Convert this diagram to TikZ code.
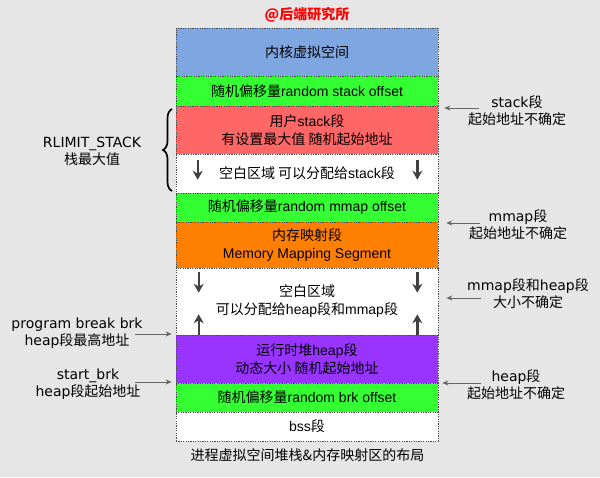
\documentclass[tikz,border=0pt]{standalone}
\usepackage{fontspec}
\setmainfont{Liberation Sans}
\newfontfamily\cjk{Noto Sans CJK SC}
\newfontfamily\sidefont{DejaVu Sans}
\usetikzlibrary{decorations.pathreplacing,arrows.meta,calc}
\definecolor{bgc}{HTML}{E6E6E6}
\definecolor{kblue}{HTML}{7EA6E0}
\definecolor{rgreen}{HTML}{33FF33}
\definecolor{sred}{HTML}{FF6666}
\definecolor{morange}{HTML}{FF8000}
\definecolor{hpurple}{HTML}{9933FF}
\newcommand\zh[1]{{\cjk #1}}
\begin{document}
\begin{tikzpicture}[x=1pt,y=-1pt,
  seg/.style={draw=black!70, line width=0.6pt, dash pattern=on 1.2pt off 1.2pt,
    minimum width=262pt, inner sep=0pt, align=center,
    font=\fontsize{14}{18}\selectfont},
  side/.style={align=center, font=\sidefont\fontsize{14}{17}\selectfont},
  flow/.style={draw=black!75, line width=2.4pt, -{Stealth[length=9pt,width=10pt]}},
  sidearr/.style={draw=black!60, line width=0.9pt, -{Stealth[length=6pt,width=5pt]}}
]
\fill[bgc] (0,0) rectangle (600,477);
\useasboundingbox (0,0) rectangle (600,477);

\node[font=\cjk\bfseries\fontsize{14}{16}\selectfont, text=red] (title) at (307,15) {@后端研究所};

\node[seg, fill=kblue, minimum height=48pt] (kernel) at (307,52) {\zh{内核虚拟空间}};
\node[seg, fill=rgreen, minimum height=30pt] (rso) at (307,91) {\zh{随机偏移量}random stack offset};
\node[seg, fill=sred, minimum height=48pt] (stack) at (307,130) {\zh{用户}stack\zh{段}\\\zh{有设置最大值 随机起始地址}};
\node[seg, fill=white, minimum height=39pt] (free1) at (307,173.5) {\zh{空白区域 可以分配给}stack\zh{段}};
\node[seg, fill=rgreen, minimum height=29pt] (rmo) at (307,207.5) {\zh{随机偏移量}random mmap offset};
\node[seg, fill=morange, minimum height=46pt] (mmap) at (307,245) {\zh{内存映射段}\\Memory Mapping Segment};
\node[seg, fill=white, minimum height=67pt] (free2) at (307,301.5) {\zh{空白区域}\\\zh{可以分配给}heap\zh{段和}mmap\zh{段}};
\node[seg, fill=hpurple, minimum height=48pt] (heap) at (307,359) {\zh{运行时堆}heap\zh{段}\\\zh{动态大小 随机起始地址}};
\node[seg, fill=rgreen, minimum height=29pt] (rbo) at (307,397.5) {\zh{随机偏移量}random brk offset};
\node[seg, fill=white, minimum height=29pt] (bss) at (307,426.5) {bss\zh{段}};

\node[font=\cjk\fontsize{14}{16}\selectfont] (caption) at (307.5,455) {进程虚拟空间堆栈\&内存映射区的布局};

% arrows inside free areas
\draw[flow] ($(free1.north west)+(22,6)$) -- ($(free1.north west)+(22,26)$);
\draw[flow] ($(free1.north east)+(-21,6)$) -- ($(free1.north east)+(-21,26)$);
\draw[flow] ($(free2.north west)+(23,4)$) -- ($(free2.north west)+(23,25)$);
\draw[flow] ($(free2.north east)+(-21,4)$) -- ($(free2.north east)+(-21,25)$);
\draw[flow] ($(free2.south west)+(23,0)$) -- ($(free2.south west)+(23,-21)$);
\draw[flow] ($(free2.south east)+(-21,0)$) -- ($(free2.south east)+(-21,-21)$);

% brace
\coordinate (bt) at (172,109);
\coordinate (bb) at (172,191);
\draw[line width=1.7pt, decorate, decoration={brace, amplitude=9pt}] (bb) -- (bt);
\node[side] (rlimit) at (92,151) {RLIMIT\_STACK\\\zh{栈最大值}};

% right labels
\node[side] (lstack) at (517,111) {stack\zh{段}\\\zh{起始地址不确定}};
\node[side] (lmmap) at (518,225) {mmap\zh{段}\\\zh{起始地址不确定}};
\node[side] (lsize) at (528,294) {mmap\zh{段和}heap\zh{段}\\\zh{大小不确定}};
\node[side] (lheap) at (516,385) {heap\zh{段}\\\zh{起始地址不确定}};
\coordinate (r1) at (479,108);
\coordinate (r2) at (480,223);
\coordinate (r3) at (481,298);
\coordinate (r4) at (481,383);
\draw[sidearr] (r1) -- ([xshift=6pt]stack.east |- r1);
\draw[sidearr] (r2) -- ([xshift=8pt]mmap.east |- r2);
\draw[sidearr] (r3) -- ([xshift=8pt]free2.east |- r3);
\draw[sidearr] (r4) -- ([xshift=4pt]heap.east |- r4);

% left labels
\node[side] (lbrk) at (77,333) {program break brk\\heap\zh{段最高地址}};
\node[side] (lstart) at (88,384) {start\_brk\\heap\zh{段起始地址}};
\coordinate (l1) at (135,334);
\coordinate (l2) at (135,382);
\draw[sidearr] (l1) -- ([xshift=-4pt]heap.west |- l1);
\draw[sidearr] (l2) -- ([xshift=-4pt]rbo.west |- l2);
\end{tikzpicture}
\end{document}
